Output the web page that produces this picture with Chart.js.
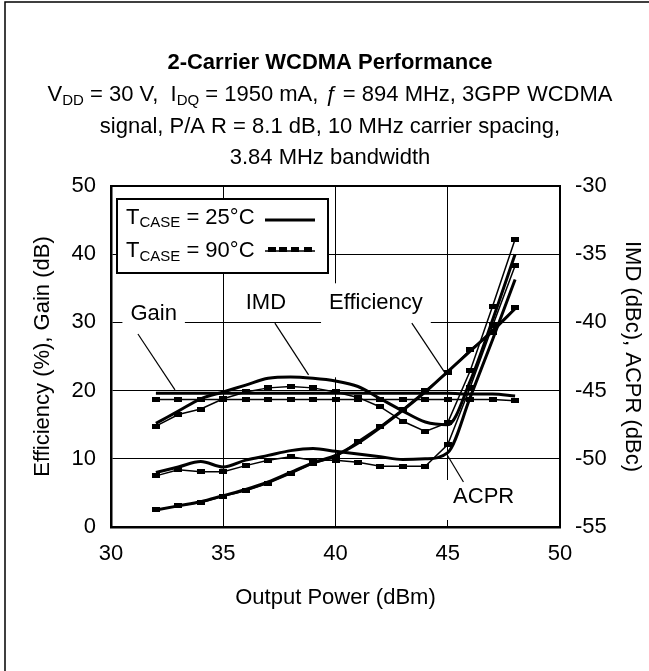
<!DOCTYPE html>
<html lang="en">
<head>
<meta charset="UTF-8">
<title>2-Carrier WCDMA Performance</title>
<script src="https://cdn.jsdelivr.net/npm/chart.js"></script>
<style>
    html, body { margin: 0; padding: 0; background: #fff; }
    #perfCanvas { display: block; }
</style>
</head>
<body>
<canvas id="perfCanvas" width="649" height="671"></canvas>
<script>
    // output power steps (dBm)
    const outputPower = [32, 33, 34, 35, 36, 37, 38, 39, 40, 41, 42, 43, 44, 45, 46, 47, 48];

    // left axis: efficiency (%) and gain (dB)
    const gain25 = [19.6, 19.6, 19.6, 19.6, 19.6, 19.6, 19.6, 19.6, 19.6, 19.6, 19.6, 19.6, 19.6, 19.6, 19.5, 19.5, 19.2];
    const gain90 = [18.7, 18.7, 18.7, 18.7, 18.7, 18.7, 18.7, 18.7, 18.7, 18.7, 18.7, 18.7, 18.7, 18.7, 18.7, 18.7, 18.5];
    const eff25 = [2.5, 3.1, 3.7, 4.6, 5.5, 6.6, 8.0, 9.4, 10.5, 12.3, 14.6, 17.1, 19.8, 22.8, 25.8, 28.8, 32.0];
    const eff90 = [2.5, 3.1, 3.6, 4.5, 5.3, 6.4, 7.8, 9.3, 10.2, 12.6, 14.8, 17.3, 20.0, 22.6, 26.0, 28.5, 32.2];

    // right axis: IMD and ACPR (dBc)
    const imd25 = [-47.4, -46.5, -45.6, -45.1, -44.6, -44.1, -44.0, -44.1, -44.3, -44.7, -45.6, -46.5, -47.3, -47.5, -44.3, -39.8, -35.0];
    const imd90 = [-47.6, -46.75, -46.35, -45.6, -45.1, -44.8, -44.7, -44.8, -45.1, -45.5, -46.2, -47.25, -48.0, -47.35, -43.55, -38.8, -33.9];
    const acpr25 = [-51.0, -50.6, -50.2, -50.6, -50.1, -49.75, -49.4, -49.25, -49.45, -49.65, -49.85, -50.05, -50.0, -49.55, -45.5, -41.25, -36.85];
    const acpr90 = [-51.25, -50.8, -50.95, -50.95, -50.5, -50.1, -49.85, -50.1, -50.1, -50.25, -50.55, -50.55, -50.55, -48.95, -44.75, -40.25, -35.85];

    // tick ranges
    const xTicks = [30, 35, 40, 45, 50];
    const leftTicks = [0, 10, 20, 30, 40, 50];
    const rightTicks = [-55, -50, -45, -40, -35, -30];

    const caseTemps = ['25°C', '90°C'];
    const calloutText = ['Gain', 'IMD', 'Efficiency', 'ACPR'];

    const FONT = '"Liberation Sans", Arial, sans-serif';

    // callouts, in data units (dBm, left axis)
    const callouts = [
        { at: [31.9, 31.2], from: [31.2, 28.3], to: [32.85, 20.1], box: [8, 18, 18] },
        { at: [36.9, 32.8], from: [37.3, 29.9], to: [38.8, 22.3], box: [8, 18, 18] },
        { at: [41.8, 32.8], from: [43.4, 29.9], to: [44.9, 22.5], box: [8, 20, 74] },
        { at: [46.6, 4.4], from: [45.7, 6.6], to: [44.95, 10.7], box: [8, 17, 23] }
    ];

    // small black rectangle used as the 90°C marker
    const markImg = document.createElement('canvas');
    markImg.width = 8;
    markImg.height = 5;
    const mctx = markImg.getContext('2d');
    mctx.fillStyle = '#000';
    mctx.fillRect(0, 0, 8, 5);

    function pts(values) {
        return outputPower.map((p, i) => ({ x: p, y: values[i] }));
    }

    function solid(label, values, axis) {
        return {
            label: label, data: pts(values), yAxisID: axis,
            borderColor: '#000', borderWidth: 3, pointRadius: 0,
            cubicInterpolationMode: 'monotone'
        };
    }

    function marked(label, values, axis) {
        return {
            label: label, data: pts(values), yAxisID: axis,
            borderColor: '#000', borderWidth: 1.5, tension: 0,
            pointStyle: markImg, pointRadius: 4
        };
    }

    function drawRuns(ctx, runs, x, baseline, size, bold, align) {
        let total = 0;
        const parts = runs.map(r => {
            const s = r.sub ? Math.round(size * 0.68) : size;
            const font = (r.it ? 'italic ' : '') + (bold ? 'bold ' : '') + s + 'px ' + FONT;
            ctx.font = font;
            const w = ctx.measureText(r.t).width;
            total += w;
            return { t: r.t, font: font, w: w, dy: r.sub ? size * 0.16 : 0 };
        });
        let cx = align === 'left' ? x : x - total / 2;
        ctx.textAlign = 'left';
        ctx.textBaseline = 'alphabetic';
        parts.forEach(p => {
            ctx.font = p.font;
            ctx.fillText(p.t, cx, baseline + p.dy);
            cx += p.w;
        });
    }

    const decorPlugin = {
        id: 'decor',
        beforeDraw(chart) {
            const ctx = chart.ctx;
            ctx.save();
            ctx.fillStyle = '#000';
            // page frame
            ctx.strokeStyle = '#000';
            ctx.lineWidth = 1.5;
            ctx.beginPath();
            ctx.moveTo(5, 671);
            ctx.lineTo(5, 2);
            ctx.lineTo(649, 2);
            ctx.stroke();
            // title block
            const cx = 330;
            drawRuns(ctx, [{ t: '2-Carrier WCDMA Performance' }], cx, 69, 22, true);
            drawRuns(ctx, [
                { t: 'V' }, { t: 'DD', sub: true }, { t: ' = 30 V,  I' }, { t: 'DQ', sub: true },
                { t: ' = 1950 mA, ' }, { t: 'ƒ', it: true }, { t: ' = 894 MHz, 3GPP WCDMA' }
            ], cx, 101, 22, false);
            drawRuns(ctx, [{ t: 'signal, P/A R = 8.1 dB, 10 MHz carrier spacing,' }], cx, 133, 22, false);
            drawRuns(ctx, [{ t: '3.84 MHz bandwidth' }], cx, 164, 22, false);
            ctx.restore();
        },
        beforeDatasetsDraw(chart) {
            const ctx = chart.ctx;
            const xs = chart.scales.x, ys = chart.scales.y;
            const area = chart.chartArea;
            ctx.save();
            // top border of plot
            ctx.strokeStyle = '#000';
            ctx.lineWidth = 2;
            ctx.beginPath();
            ctx.moveTo(area.left, area.top);
            ctx.lineTo(area.right, area.top);
            ctx.stroke();
            // white backing under callout text
            ctx.font = '22px ' + FONT;
            ctx.fillStyle = '#fff';
            callouts.forEach((c, i) => {
                const w = ctx.measureText(calloutText[i]).width;
                const px = xs.getPixelForValue(c.at[0]);
                const py = ys.getPixelForValue(c.at[1]);
                ctx.fillRect(px - w / 2 - c.box[0], py - c.box[1], w + 2 * c.box[0], c.box[1] + c.box[2]);
            });
            ctx.restore();
        },
        afterDatasetsDraw(chart) {
            const ctx = chart.ctx;
            const xs = chart.scales.x, ys = chart.scales.y;
            const area = chart.chartArea;
            ctx.save();
            // callouts
            ctx.fillStyle = '#000';
            ctx.strokeStyle = '#000';
            ctx.lineWidth = 1.2;
            ctx.font = '22px ' + FONT;
            ctx.textAlign = 'center';
            ctx.textBaseline = 'middle';
            callouts.forEach((c, i) => {
                ctx.fillText(calloutText[i], xs.getPixelForValue(c.at[0]), ys.getPixelForValue(c.at[1]));
                ctx.beginPath();
                ctx.moveTo(xs.getPixelForValue(c.from[0]), ys.getPixelForValue(c.from[1]));
                ctx.lineTo(xs.getPixelForValue(c.to[0]), ys.getPixelForValue(c.to[1]));
                ctx.stroke();
            });
            // legend box
            const lx = area.left + 6, ly = area.top + 13, lw = 211, lh = 74;
            ctx.fillStyle = '#fff';
            ctx.fillRect(lx, ly, lw, lh);
            ctx.lineWidth = 2;
            ctx.strokeRect(lx, ly, lw, lh);
            ctx.fillStyle = '#000';
            const rows = [ly + 24.5, ly + 58];
            caseTemps.forEach((t, i) => {
                drawRuns(ctx, [{ t: 'T' }, { t: 'CASE', sub: true }, { t: ' = ' + t }], lx + 9, rows[i], 22, false, 'left');
            });
            ctx.lineWidth = 3;
            ctx.beginPath();
            ctx.moveTo(lx + 148, rows[0] - 3.5);
            ctx.lineTo(lx + 198, rows[0] - 3.5);
            ctx.stroke();
            ctx.lineWidth = 1.5;
            ctx.beginPath();
            ctx.moveTo(lx + 148, rows[1] - 6);
            ctx.lineTo(lx + 198, rows[1] - 6);
            ctx.stroke();
            [155, 166, 178, 191].forEach(dx => ctx.drawImage(markImg, lx + dx - 4, rows[1] - 10));
            ctx.restore();
        }
    };

    let perfChart;

    function initializeChart() {
        const ctx = document.getElementById('perfCanvas').getContext('2d');
        const tickFont = { family: FONT, size: 22 };
        perfChart = new Chart(ctx, {
            type: 'line',
            data: {
                datasets: [
                    solid('Gain 25°C', gain25, 'y'),
                    marked('Gain 90°C', gain90, 'y'),
                    solid('Efficiency 25°C', eff25, 'y'),
                    marked('Efficiency 90°C', eff90, 'y'),
                    solid('IMD 25°C', imd25, 'y1'),
                    marked('IMD 90°C', imd90, 'y1'),
                    solid('ACPR 25°C', acpr25, 'y1'),
                    marked('ACPR 90°C', acpr90, 'y1')
                ]
            },
            options: {
                responsive: false,
                animation: false,
                layout: { padding: { top: 186, left: 0, right: 0, bottom: 0 } },
                plugins: { legend: { display: false }, tooltip: { enabled: false } },
                scales: {
                    x: {
                        type: 'linear', min: xTicks[0], max: xTicks[xTicks.length - 1],
                        afterFit: s => { s.height = 144; },
                        afterBuildTicks: s => { s.ticks = xTicks.map(v => ({ value: v })); },
                        ticks: { font: tickFont, color: '#000', padding: 14, maxRotation: 0 },
                        grid: { color: '#000', lineWidth: 1, drawTicks: false },
                        border: { color: '#000', width: 2.5 },
                        title: { display: true, text: 'Output Power (dBm)', color: '#000', font: tickFont, padding: { top: 0, bottom: 60 } }
                    },
                    y: {
                        position: 'left', min: leftTicks[0], max: leftTicks[leftTicks.length - 1],
                        afterFit: s => { s.width = 111; },
                        afterBuildTicks: s => { s.ticks = leftTicks.map(v => ({ value: v })); },
                        ticks: { font: tickFont, color: '#000', padding: 15 },
                        grid: { color: '#000', lineWidth: 1, drawTicks: false },
                        border: { color: '#000', width: 2.5 },
                        title: { display: true, text: 'Efficiency (%), Gain (dB)', color: '#000', font: tickFont, padding: { top: 30, bottom: 0 } }
                    },
                    y1: {
                        position: 'right', min: rightTicks[0], max: rightTicks[rightTicks.length - 1],
                        afterFit: s => { s.width = 89; },
                        afterBuildTicks: s => { s.ticks = rightTicks.map(v => ({ value: v })); },
                        ticks: { font: tickFont, color: '#000', padding: 15 },
                        grid: { drawOnChartArea: false, drawTicks: false },
                        border: { color: '#000', width: 2 },
                        title: { display: true, text: 'IMD (dBc), ACPR (dBc)', color: '#000', font: tickFont, padding: { top: 4, bottom: 0 } }
                    }
                }
            },
            plugins: [decorPlugin]
        });
    }

    window.onload = () => {
        initializeChart();
    };
</script>
</body>
</html>
